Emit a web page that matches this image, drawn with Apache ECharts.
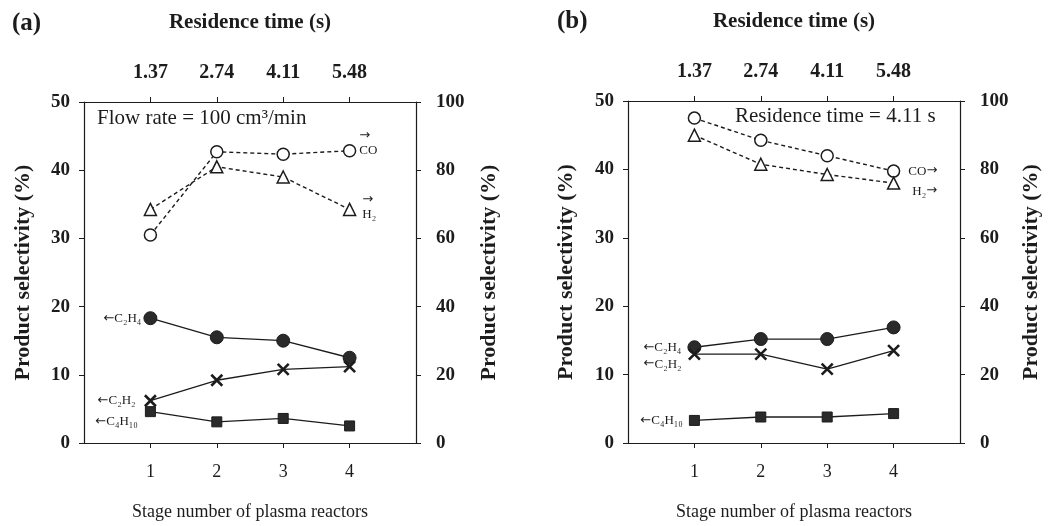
<!DOCTYPE html>
<html>
<head>
<meta charset="utf-8">
<script src="https://cdn.jsdelivr.net/npm/echarts@6/dist/echarts.min.js"></script>
<style>
  html, body { margin: 0; padding: 0; background: #fff; }
  #chart { width: 1049px; height: 526px; }
</style>
</head>
<body>
<div id="chart"></div>
<script>
// stage number of plasma reactors and matching residence time
const stages = [1, 2, 3, 4];
const residenceTimes = ["1.37", "2.74", "4.11", "5.48"];

// (a) flow rate = 100 cm3/min
const aCO = [61, 85.4, 84.7, 85.7];
const aH2 = [68.5, 81, 78, 68.5];
const aC2H4 = [18.3, 15.5, 15.0, 12.5];
const aC2H2 = [6.2, 9.2, 10.8, 11.2];
const aC4H10 = [4.6, 3.1, 3.6, 2.5];

// (b) residence time = 4.11 s
const bCO = [95, 88.5, 84, 79.5];
const bH2 = [90, 81.5, 78.5, 76];
const bC2H4 = [14, 15.2, 15.2, 16.9];
const bC2H2 = [13, 13, 10.8, 13.5];
const bC4H10 = [3.3, 3.8, 3.8, 4.3];

const ink = "#1c1c1c";
const serif = "Liberation Serif";
const arrowFont = "DejaVu Sans";

const chart = echarts.init(document.getElementById("chart"));

const pts = (vals, idx, label) =>
  stages.map((s, i) => (i === idx ? { value: [s, vals[i]], label } : [s, vals[i]]));

const tag = (text, pos, extra) => ({
  show: true,
  position: pos,
  formatter: text,
  color: ink,
  fontFamily: serif,
  fontSize: 13,
  rich: {
    ar: { fontFamily: arrowFont, fontSize: 13, color: ink },
    t: { fontFamily: serif, fontSize: 13, color: ink }
  },
  ...extra
});

const bottomX = gridIndex => ({
  type: "value",
  gridIndex,
  position: "bottom",
  min: 0,
  max: 5,
  interval: 1,
  name: "Stage number of plasma reactors",
  nameLocation: "middle",
  nameGap: 60,
  nameTextStyle: { fontFamily: serif, fontSize: 18, color: ink },
  axisLine: { onZero: false, lineStyle: { color: ink, width: 1.2 } },
  axisTick: { show: true, length: 5, customValues: stages, lineStyle: { color: ink } },
  splitLine: { show: false },
  axisLabel: {
    margin: 20,
    fontFamily: serif,
    fontSize: 18,
    color: ink,
    customValues: stages,
    formatter: v => (v >= 1 && v <= 4 ? String(v) : "")
  }
});

const topX = gridIndex => ({
  type: "value",
  gridIndex,
  position: "top",
  min: 0,
  max: 5,
  interval: 1,
  name: "Residence time (s)",
  nameLocation: "middle",
  nameGap: 69,
  nameTextStyle: { fontFamily: serif, fontSize: 21, fontWeight: "bold", color: ink },
  axisLine: { onZero: false, lineStyle: { color: ink, width: 1.2 } },
  axisTick: { show: true, length: 5, customValues: stages, lineStyle: { color: ink } },
  splitLine: { show: false },
  axisLabel: {
    margin: 19,
    fontFamily: serif,
    fontSize: 20,
    fontWeight: "bold",
    color: ink,
    customValues: stages,
    formatter: v => (v >= 1 && v <= 4 ? residenceTimes[v - 1] : "")
  }
});

const yAx = (gridIndex, side, max, interval, gap, margin) => ({
  type: "value",
  gridIndex,
  position: side,
  min: 0,
  max,
  interval,
  name: "Product selectivity (%)",
  nameLocation: "middle",
  nameRotate: 90,
  nameGap: gap,
  nameTextStyle: { fontFamily: serif, fontSize: 22, fontWeight: "bold", color: ink },
  axisLine: { show: true, onZero: false, lineStyle: { color: ink, width: 1.2 } },
  axisTick: { show: true, length: 5, lineStyle: { color: ink } },
  splitLine: { show: false },
  axisLabel: { margin, fontFamily: serif, fontSize: 19, fontWeight: "bold", color: ink }
});

const dashed = (name, x, y, data, symbol, size) => ({
  name,
  type: "line",
  xAxisIndex: x,
  yAxisIndex: y,
  data,
  symbol,
  symbolSize: size,
  lineStyle: { color: ink, width: 1.4, type: [4, 3] },
  itemStyle: { color: "#fff", borderColor: ink, borderWidth: 1.5 },
  z: 3
});

const solid = (name, x, y, data, symbol, size, stroked) => ({
  name,
  type: "line",
  xAxisIndex: x,
  yAxisIndex: y,
  data,
  symbol,
  symbolSize: size,
  lineStyle: { color: ink, width: 1.3 },
  itemStyle: stroked
    ? { color: ink, borderColor: ink, borderWidth: 2.6 }
    : { color: "#2a2a2a", borderColor: ink, borderWidth: 1 },
  z: 4
});

const cross = "path://M0,0L10,10M0,10L10,0";

chart.setOption({
  backgroundColor: "#fff",
  animation: false,
  grid: [
    { left: 84, right: 633, top: 102, bottom: 83, outerBoundsMode: "none" },
    { left: 628, right: 89, top: 101, bottom: 83, outerBoundsMode: "none" }
  ],
  xAxis: [bottomX(0), topX(0), bottomX(1), topX(1)],
  yAxis: [
    yAx(0, "left", 50, 10, 50, 14),
    yAx(0, "right", 100, 20, 62, 20),
    yAx(1, "left", 50, 10, 51, 14),
    yAx(1, "right", 100, 20, 60, 20)
  ],
  graphic: [
    { type: "text", left: 12, top: 11, style: { text: "(a)", font: "bold 25px 'Liberation Serif'", fill: ink } },
    { type: "text", left: 557, top: 9, style: { text: "(b)", font: "bold 25px 'Liberation Serif'", fill: ink } },
    { type: "text", left: 97, top: 108, style: { text: "Flow rate = 100 cm³/min", font: "21px 'Liberation Serif'", fill: ink } },
    { type: "text", left: 735, top: 106, style: { text: "Residence time = 4.11 s", font: "21px 'Liberation Serif'", fill: ink } }
  ],
  series: [
    dashed("CO a", 0, 1, pts(aCO, 3, tag("{ar|→}\n{t|CO}", "right", {
      distance: 3, offset: [0, -8], lineHeight: 15
    })), "circle", 12),
    dashed("H2 a", 0, 1, pts(aH2, 3, tag("{ar|→}\n{t|H₂}", "right", {
      distance: 6, offset: [0, -2], lineHeight: 15
    })), "triangle", 12),
    solid("C2H4 a", 0, 0, pts(aC2H4, 0, tag("{ar|←}{t|C₂H₄}", "left", { distance: 2 })), "circle", 13),
    solid("C2H2 a", 0, 0, pts(aC2H2, 0, tag("{ar|←}{t|C₂H₂}", "left", { distance: 8 })), cross, 11, true),
    solid("C4H10 a", 0, 0, pts(aC4H10, 0, tag("{ar|←}{t|C₄H₁₀}", "left", { distance: 7, offset: [0, 10] })), "rect", 10),

    dashed("CO b", 2, 3, pts(bCO, 3, tag("{t|CO}{ar|→}", "right", { distance: 8 })), "circle", 12),
    dashed("H2 b", 2, 3, pts(bH2, 3, tag("{t|H₂}{ar|→}", "right", { distance: 12, offset: [0, 8] })), "triangle", 12),
    solid("C2H4 b", 2, 2, pts(bC2H4, 0, tag("{ar|←}{t|C₂H₄}", "left", { distance: 6 })), "circle", 13),
    solid("C2H2 b", 2, 2, pts(bC2H2, 0, tag("{ar|←}{t|C₂H₂}", "left", { distance: 6, offset: [0, 10] })), cross, 11, true),
    solid("C4H10 b", 2, 2, pts(bC4H10, 0, tag("{ar|←}{t|C₄H₁₀}", "left", { distance: 6 })), "rect", 10)
  ]
});
</script>
</body>
</html>
